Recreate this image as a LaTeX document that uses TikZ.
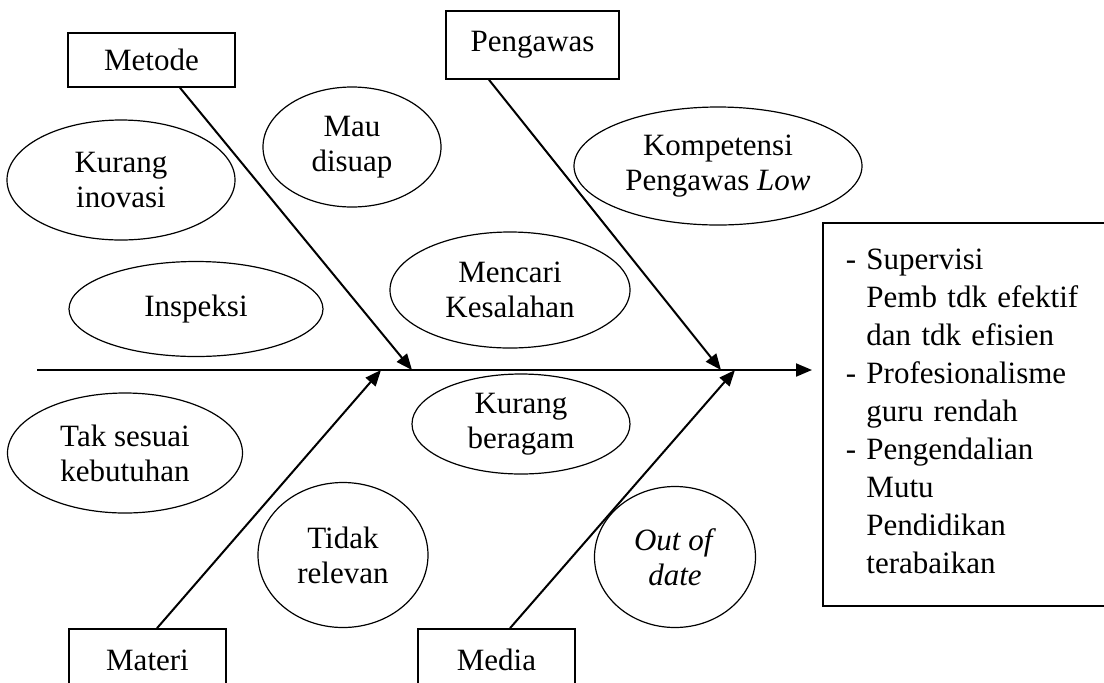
\documentclass[tikz,border=0pt]{standalone}
\usepackage{fontspec}
\setmainfont{Liberation Serif}
\usetikzlibrary{shapes.geometric,arrows.meta,calc}

\tikzset{
  cause/.style={
    shape = rectangle,
    draw,
    line width = 0.8pt,
    inner sep = 0pt
  },
  idea/.style={
    shape = ellipse,
    draw,
    fill = white,
    line width = 0.6pt,
    inner sep = 0pt,
    align = center
  },
  effbox/.style={
    shape = rectangle,
    draw,
    line width = 0.8pt,
    anchor = north west,
    inner xsep = 11.5pt,
    inner ysep = 0pt,
    align = left
  },
  bone/.style={
    line width = 1pt,
    -{Triangle[length=8pt,width=6.5pt]}
  },
  every picture/.style = {
    font=\fontsize{15.5}{17.5}\selectfont
  }
}

\begin{document}
\begin{tikzpicture}[x=0.5pt,y=-0.5pt]
    \path[use as bounding box, clip] (0,0) rectangle (1104,682);
    % causes
    \node[cause, minimum width=83.5pt, minimum height=27pt] (metode) at (151.5,60) {Metode};
    \node[cause, minimum width=86.5pt, minimum height=34pt] (pengawas) at (532.5,45) {Pengawas};
    \node[cause, minimum width=78.5pt, minimum height=31pt] (materi) at (147.5,660) {Materi};
    \node[cause, minimum width=78.5pt, minimum height=31pt] (media) at (496.5,660) {Media};
    % effect
    \node[effbox, minimum height=191.5pt, text width=170pt] (effect) at (822,222) {%
      \fontsize{15.5}{19}\selectfont
      \begin{tabular}{@{}l@{ }l@{}}
        - & Supervisi\\
          & Pemb tdk efektif\\
          & dan tdk efisien\\
        - & Profesionalisme\\
          & guru rendah\\
        - & Pengendalian\\
          & Mutu\\
          & Pendidikan\\
          & terabaikan
      \end{tabular}};
    % spine and bones
    \coordinate (tail) at (37,370);
    \coordinate (tmetode) at (412,370);
    \coordinate (tmateri) at (381,370);
    \coordinate (tpengawas) at (721,370);
    \coordinate (tmedia) at (735,370);
    \draw[bone, shorten >=5pt] (tail) -- (tail -| effect.west);
    \draw[bone] ([xshift=14.25pt]metode.south) -- (tmetode);
    \draw[bone] ([xshift=-21.75pt]pengawas.south) -- (tpengawas);
    \draw[bone] ([xshift=4.75pt]materi.north) -- (tmateri);
    \draw[bone] ([xshift=6.75pt]media.north) -- (tmedia);
    % sub causes
    \node[idea, minimum width=114pt, minimum height=60pt] (inovasi) at (121,180) {Kurang\\inovasi};
    \node[idea, minimum width=89pt, minimum height=60pt] (disuap) at (352,147) {Mau\\disuap};
    \node[idea, minimum width=144pt, minimum height=59pt] (kompetensi) at (718,166) {Kompetensi\\Pengawas \textit{Low}};
    \node[idea, minimum width=127pt, minimum height=47.5pt] (inspeksi) at (196,309) {Inspeksi};
    \node[idea, minimum width=120pt, minimum height=58pt] (kesalahan) at (510,290) {Mencari\\Kesalahan};
    \node[idea, minimum width=117.5pt, minimum height=60pt] (kebutuhan) at (125,453) {Tak sesuai\\kebutuhan};
    \node[idea, minimum width=109pt, minimum height=50pt] (beragam) at (521,424) {Kurang\\beragam};
    \node[idea, minimum width=85pt, minimum height=72.5pt] (relevan) at (343,555) {Tidak\\relevan};
    \node[idea, minimum width=80.5pt, minimum height=70.5pt] (outdate) at (675,557) {\textit{Out of}\\\textit{date}};
\end{tikzpicture}
\end{document}
